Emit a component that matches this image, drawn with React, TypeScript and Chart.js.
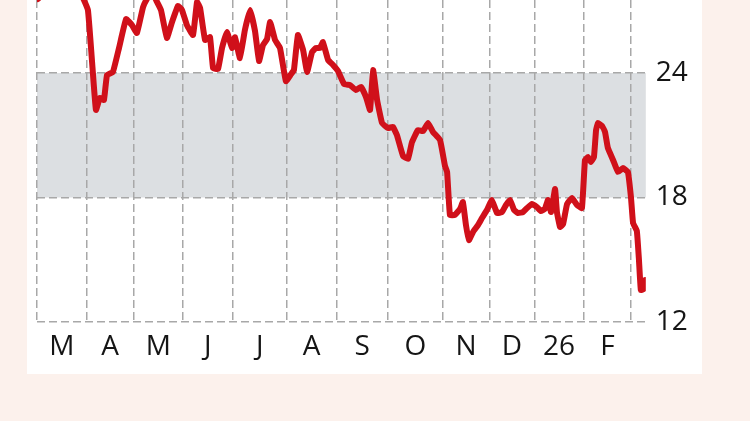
import React, { useEffect, useRef } from "react";
import { Chart, registerables } from "chart.js";

Chart.register(...registerables);

const monthLabels = ["M", "A", "M", "J", "J", "A", "S", "O", "N", "D", "26", "F"];
const sessionsPerMonth = [21, 20, 21, 21, 23, 21, 22, 23, 20, 19, 21, 20];

// y axis
const yTickValues = [12, 18, 24];
const bandLow = 18;
const bandHigh = 24;
const yMin = 12;
const yMax = 27.52;
const xMax = 258.3;

// Series: session index (from 1 Mar 2025) and price
const sessionIndex = [
  0.4, 4.7, 9.8, 14.8, 19.1, 21.6, 23.3, 25.0, 26.7, 28.4, 29.7, 32.2, 34.8, 37.8, 40.3, 42.4,
  45.0, 47.1, 48.8, 50.5, 52.6, 55.1, 57.3, 59.8, 61.5, 63.6, 66.2, 67.9, 69.2, 71.3, 73.4, 74.7,
  76.8, 78.5, 80.6, 82.7, 84.0, 86.1, 88.2, 90.4, 92.5, 94.2, 95.9, 97.6, 98.9, 101.0, 103.1,
  105.6, 107.8, 109.0, 110.7, 112.9, 114.6, 116.7, 118.4, 120.1, 121.3, 123.5, 125.6, 127.7,
  130.3, 132.8, 135.3, 137.5, 139.6, 141.3, 142.6, 144.3, 146.4, 148.9, 151.0, 152.7, 155.3,
  157.4, 159.1, 161.6, 163.8, 165.9, 168.0, 171.0, 173.1, 174.0, 175.2, 177.3, 179.5, 180.7,
  182.0, 183.3, 185.0, 187.1, 188.8, 190.9, 193.0, 195.2, 197.3, 199.0, 200.7, 202.4, 204.1,
  206.2, 207.9, 210.0, 212.1, 213.8, 215.5, 216.8, 218.1, 219.8, 220.6, 221.9, 223.2, 224.9,
  227.0, 229.1, 231.2, 232.5, 233.8, 235.0, 236.3, 237.2, 238.0, 239.7, 241.0, 242.2, 244.4,
  246.5, 248.6, 250.7, 252.0, 252.9, 254.5, 255.4, 256.2, 257.5, 258.0,
];

const priceValues = [
  27.57, 28.10, 27.90, 28.19, 27.71, 27.04, 24.63, 22.22, 22.80, 22.70, 23.90, 24.05, 25.21,
  26.60, 26.31, 25.93, 27.18, 27.66, 27.90, 27.52, 27.04, 25.69, 26.46, 27.23, 27.04, 26.31,
  25.83, 27.42, 27.13, 25.59, 25.73, 24.24, 24.19, 25.21, 25.98, 25.21, 25.73, 24.72, 26.07,
  27.04, 26.02, 24.58, 25.35, 25.64, 26.46, 25.59, 25.21, 23.61, 23.95, 24.14, 25.83, 25.11,
  24.05, 25.01, 25.21, 25.21, 25.49, 24.63, 24.39, 24.10, 23.47, 23.42, 23.18, 23.33, 22.84,
  22.22, 24.14, 22.70, 21.59, 21.35, 21.40, 21.01, 20.00, 19.86, 20.67, 21.25, 21.20, 21.59,
  21.16, 20.77, 19.52, 19.23, 17.16, 17.16, 17.45, 17.78, 16.67, 15.95, 16.34, 16.67, 17.01,
  17.40, 17.88, 17.25, 17.30, 17.64, 17.88, 17.40, 17.25, 17.30, 17.49, 17.69, 17.54, 17.35,
  17.45, 17.88, 17.30, 18.41, 17.30, 16.58, 16.72, 17.69, 17.98, 17.64, 17.49, 19.81, 19.95,
  19.71, 19.95, 21.25, 21.59, 21.45, 21.16, 20.39, 19.81, 19.23, 19.42, 19.23, 18.02, 16.77,
  16.39, 14.99, 13.54, 13.59, 14.02,
];

const RED = "#d0101a";
const GRID = "#a8a8a8";
const TEXT = "#151515";
const BAND = "#dcdfe2";
const FONT = "'Open Sans', 'DejaVu Sans', sans-serif";

export default function App() {
  const ref = useRef<HTMLCanvasElement>(null);

  useEffect(() => {
    const canvas = ref.current;
    if (!canvas) return;

    const starts: number[] = [0];
    sessionsPerMonth.forEach((n) => starts.push(starts[starts.length - 1] + n));
    const mids = monthLabels.map((_, i) => (starts[i] + starts[i + 1]) / 2);
    const tickVals = [...starts, ...mids].sort((a, b) => a - b);

    const bandPlugin = {
      id: "band",
      beforeDraw(chart: any) {
        const { ctx, chartArea, scales } = chart;
        const yTop = scales.y.getPixelForValue(bandHigh);
        const yBot = scales.y.getPixelForValue(bandLow);
        ctx.save();
        ctx.fillStyle = BAND;
        ctx.fillRect(chartArea.left, yTop, chartArea.right - chartArea.left, yBot - yTop);
        ctx.restore();
      },
    };

    const chart = new Chart(canvas, {
      type: "line",
      data: {
        datasets: [
          {
            data: sessionIndex.map((x, i) => ({ x, y: priceValues[i] })),
            borderColor: RED,
            borderWidth: 6,
            pointRadius: 0,
            tension: 0.1,
            borderJoinStyle: "round",
            borderCapStyle: "round",
            fill: false,
          },
        ],
      },
      options: {
        responsive: false,
        animation: false,
        layout: { padding: { left: 37, top: 0, right: 44.2, bottom: 59 } },
        plugins: { legend: { display: false }, tooltip: { enabled: false } },
        scales: {
          x: {
            type: "linear",
            min: 0,
            max: xMax,
            afterBuildTicks: (s: any) => {
              s.ticks = tickVals.map((v) => ({ value: v }));
            },
            afterFit: (s: any) => {
              s.height = 40;
              s.paddingLeft = 0;
              s.paddingRight = 0;
            },
            grid: {
              color: (c: any) => (starts.includes(c.tick?.value) ? GRID : "rgba(0,0,0,0)"),
              lineWidth: 1.5,
              drawTicks: false,
            },
            border: { display: false, dash: [8, 4] },
            ticks: {
              autoSkip: false,
              maxRotation: 0,
              padding: 8,
              color: TEXT,
              font: { family: FONT, size: 28 },
              callback: (v: any) => {
                const i = mids.indexOf(Number(v));
                return i >= 0 ? monthLabels[i] : "";
              },
            },
          },
          y: {
            position: "right",
            min: yMin,
            max: yMax,
            afterBuildTicks: (s: any) => {
              s.ticks = yTickValues.map((v) => ({ value: v }));
            },
            afterFit: (s: any) => {
              s.width = 60;
              s.paddingTop = 0;
              s.paddingBottom = 0;
            },
            grid: { color: GRID, lineWidth: 1.5, drawTicks: false },
            border: { display: false, dash: [8, 4] },
            ticks: {
              padding: 10,
              color: TEXT,
              font: { family: FONT, size: 28 },
              callback: (v: any) => String(v),
            },
          },
        },
      },
      plugins: [bandPlugin],
    } as any);

    return () => chart.destroy();
  }, []);

  return (
    <div
      style={{
        position: "fixed",
        left: 0,
        top: 0,
        width: 750,
        height: 421,
        background: "#fcf1ec",
        overflow: "hidden",
      }}
    >
      <div
        style={{
          position: "absolute",
          left: 27,
          top: 0,
          width: 675,
          height: 374,
          background: "#ffffff",
        }}
      />
      <canvas
        ref={ref}
        width={750}
        height={421}
        style={{ position: "absolute", left: 0, top: 0, width: 750, height: 421 }}
      />
    </div>
  );
}
